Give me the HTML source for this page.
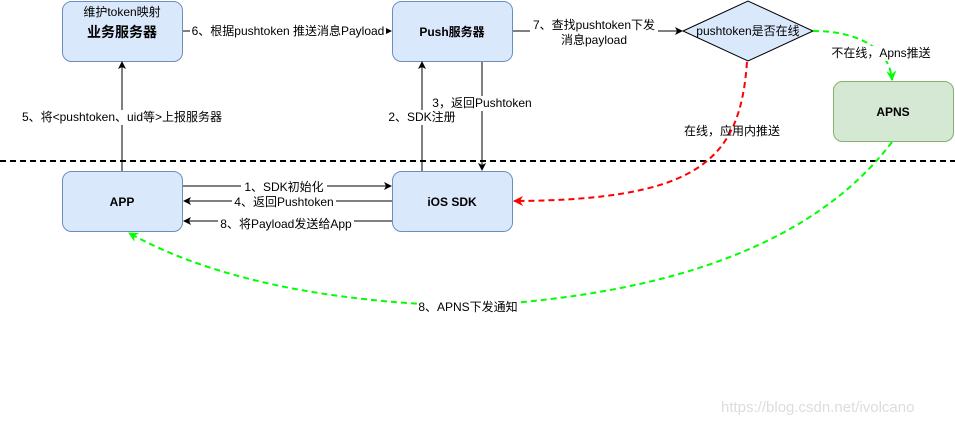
<!DOCTYPE html>
<html><head><meta charset="utf-8"><style>
body{margin:0;background:#fff;width:955px;height:424px;overflow:hidden}
text{font-family:"Liberation Sans","Noto Sans CJK SC",sans-serif;font-size:12px;fill:#000}
.b{font-weight:bold;font-size:12px}
</style></head><body>
<svg width="955" height="424" viewBox="0 0 955 424" xmlns="http://www.w3.org/2000/svg">
<defs>
<marker id="ak" markerWidth="8" markerHeight="8" refX="7" refY="4" orient="auto" markerUnits="userSpaceOnUse"><path d="M0,0 L8,4 L0,8 L2,4z" fill="#000"/></marker>
<marker id="ar" markerWidth="10" markerHeight="10" refX="9" refY="5" orient="auto" markerUnits="userSpaceOnUse"><path d="M0,0 L10,5 L0,10 L3,5z" fill="#f00"/></marker>
<marker id="ag" markerWidth="10" markerHeight="10" refX="9" refY="5" orient="auto" markerUnits="userSpaceOnUse"><path d="M0,0 L10,5 L0,10 L3,5z" fill="#0f0"/></marker>
</defs>
<line x1="0" y1="161" x2="955" y2="161" stroke="#000" stroke-width="2" stroke-dasharray="6,4"/>
<g fill="#dae8fc" stroke="#6c8ebf">
<rect x="62.5" y="1.5" width="120" height="60" rx="9"/>
<rect x="392.5" y="1.5" width="120" height="60" rx="9"/>
<rect x="62.5" y="171.5" width="120" height="60" rx="9"/>
<rect x="392.5" y="171.5" width="120" height="60" rx="9"/>
</g>
<rect x="833.5" y="81.5" width="120" height="60" rx="9" fill="#d5e8d4" stroke="#82b366"/>
<polygon points="683,31 748,1 813,31 748,61" fill="#dae8fc" stroke="#000"/>
<g stroke="#000" fill="none">
<line x1="183" y1="31" x2="391" y2="31" marker-end="url(#ak)"/>
<line x1="513" y1="31" x2="682" y2="31" marker-end="url(#ak)"/>
<line x1="122" y1="171" x2="122" y2="62" marker-end="url(#ak)"/>
<line x1="422" y1="171" x2="422" y2="62" marker-end="url(#ak)"/>
<line x1="482" y1="62" x2="482" y2="170" marker-end="url(#ak)"/>
<line x1="183" y1="186" x2="391" y2="186" marker-end="url(#ak)"/>
<line x1="392" y1="201" x2="184" y2="201" marker-end="url(#ak)"/>
<line x1="392" y1="221" x2="184" y2="221" marker-end="url(#ak)"/>
</g>
<path d="M747 62 C740 160,700 200,514 201" fill="none" stroke="#f00" stroke-width="2" stroke-dasharray="6,4" marker-end="url(#ar)"/>
<path d="M813 31 C860 31,890 50,892 80" fill="none" stroke="#0f0" stroke-width="2" stroke-dasharray="6,4" marker-end="url(#ag)"/>
<path d="M892 142 Q780 290 468 306 Q250 300 129 233" fill="none" stroke="#0f0" stroke-width="2" stroke-dasharray="6,4" marker-end="url(#ag)"/>
<g text-anchor="middle">
<rect x="190" y="24" width="196" height="14" fill="#fff"/>
<text x="288" y="35">6、根据pushtoken 推送消息Payload</text>
<rect x="530" y="17" width="128" height="30" fill="#fff"/>
<text x="594" y="29">7、查找pushtoken下发</text>
<text x="594" y="44">消息payload</text>
<text x="122" y="16">维护token映射</text>
<text x="122" y="37" class="b" style="font-size:14px">业务服务器</text>
<text x="452" y="36" class="b">Push服务器</text>
<text x="122" y="206" class="b">APP</text>
<text x="452" y="206" class="b">iOS SDK</text>
<text x="893" y="116" class="b">APNS</text>
<text x="748" y="35">pushtoken是否在线</text>
<rect x="18" y="110" width="208" height="15" fill="#fff"/>
<text x="122" y="121">5、将&lt;pushtoken、uid等&gt;上报服务器</text>
<rect x="384" y="110" width="76" height="15" fill="#fff"/>
<text x="422" y="121">2、SDK注册</text>
<rect x="428" y="96" width="108" height="15" fill="#fff"/>
<text x="482" y="107">3，返回Pushtoken</text>
<text x="732" y="135">在线，应用内推送</text>
<rect x="830" y="46" width="104" height="15" fill="#fff"/>
<text x="881" y="57">不在线，Apns推送</text>
<rect x="241" y="179" width="86" height="14" fill="#fff"/>
<text x="284" y="191">1、SDK初始化</text>
<rect x="232" y="195" width="104" height="14" fill="#fff"/>
<text x="284" y="206">4、返回Pushtoken</text>
<rect x="218" y="215" width="136" height="14" fill="#fff"/>
<text x="286" y="228">8、将Payload发送给App</text>
<rect x="418" y="300" width="100" height="15" fill="#fff"/>
<text x="468" y="311">8、APNS下发通知</text>
</g>
<text x="721" y="412" style="font-size:15px;fill:#ddd">https://blog.csdn.net/ivolcano</text>
</svg>
</body></html>
